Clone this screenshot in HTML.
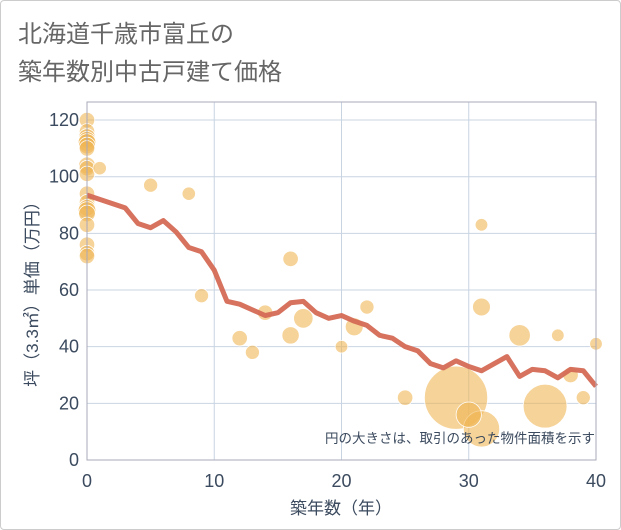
<!DOCTYPE html>
<html><head><meta charset="utf-8"><style>
body{margin:0;background:#fff;font-family:"Liberation Sans","Noto Sans CJK JP",sans-serif;}
#card{position:absolute;left:0;top:0;width:619px;height:528px;border:1px solid #ccc;border-radius:4px;}
</style></head><body>
<div id="card">
<svg width="621" height="530" style="position:absolute;left:-1px;top:-1px">
<text x="18" y="42" font-size="24" fill="#666" font-family="Liberation Sans, Noto Sans CJK JP, sans-serif">北海道千歳市富丘の</text>
<text x="18" y="80" font-size="24" fill="#666" font-family="Liberation Sans, Noto Sans CJK JP, sans-serif">築年数別中古戸建て価格</text>
<g id="grid"></g><g id="bubbles"></g><g id="line"></g><g id="axes"></g>
<text x="595" y="443" font-size="13.5" fill="#3b4a5e" text-anchor="end" font-family="Liberation Sans, Noto Sans CJK JP, sans-serif">円の大きさは、取引のあった物件面積を示す</text>
<text x="341" y="514" font-size="17" fill="#3b4a5e" text-anchor="middle" font-family="Liberation Sans, Noto Sans CJK JP, sans-serif">築年数（年）</text>
<text transform="translate(38,290) rotate(-90)" font-size="17" fill="#3b4a5e" text-anchor="middle" font-family="Liberation Sans, Noto Sans CJK JP, sans-serif">坪（3.3㎡）単価（万円）</text>
</svg></div>
<script>
const xTicks=[0,10,20,30,40];
const yTicks=[0,20,40,60,80,100,120];
const lineYears=[0,1,2,3,4,5,6,7,8,9,10,11,12,13,14,15,16,17,18,19,20,21,22,23,24,25,26,27,28,29,30,31,32,33,34,35,36,37,38,39,40];
const lineValues=[93.5,92,90.5,89,83.5,82,84.5,80.5,75,73.5,67,56,55,53,51,52,55.5,56,52,50,51,49,47.5,44,43,40,38.5,34,32.5,35,33,31.5,34,36.5,29.5,32,31.5,29,32,31.5,26];
const bubbleX=[0,0,0,0,0,0,0,0,0,0,0,0,0,0,0,0,0,0,0,1,5,8,9,12,13,14,16,16,17,20,21,22,25,29,31,30,31,31,34,36,37,38,39,40];
const bubbleY=[120,116,114,113,112,111,110,104,103,101,94,91,89,88,87,83,76,73,72,103,97,94,58,43,38,52,71,44,50,40,47,54,22,22,11,16,83,54,44,19,44,30,22,41];
const bubbleArea=[60,60,70,70,80,70,60,70,60,60,60,60,70,80,70,60,60,60,60,45,50,45,50,60,50,60,60,75,95,40,80,50,60,1000,330,160,40,80,115,480,40,60,50,40];
const X=v=>87+v*12.725, Y=v=>460-v*2.833;
const NS='http://www.w3.org/2000/svg';
function mk(t,a,p){const e=document.createElementNS(NS,t);for(const k in a)e.setAttribute(k,a[k]);p.appendChild(e);return e;}
const g=document.getElementById('grid'),ax=document.getElementById('axes');
xTicks.forEach(t=>{
const l=mk('line',{x1:X(t),x2:X(t),y1:102,y2:460,stroke:'#c8d4e2','stroke-width':1},g);


const s=mk('text',{x:X(t),y:487,'font-size':18,fill:'#3b4a5e','text-anchor':'middle'},ax);s.textContent=t;


});
yTicks.forEach(t=>{
const l=mk('line',{x1:87,x2:596,y1:Y(t),y2:Y(t),stroke:'#c8d4e2','stroke-width':1},g);


const s=mk('text',{x:79,y:Y(t)+6,'font-size':18,fill:'#3b4a5e','text-anchor':'end'},ax);s.textContent=t;


});
const fr=mk('rect',{x:87,y:102,width:509,height:358,fill:'none',stroke:'#aab','stroke-width':1},ax);


const b=document.getElementById('bubbles');
bubbleX.forEach((x,i)=>{
const r=Math.sqrt(bubbleArea[i]);
const c=mk('circle',{cx:X(x),cy:Y(bubbleY[i]),r:r,fill:'#f0b553','fill-opacity':0.6,stroke:'#fff','stroke-width':0.8},b);


});
const pts=lineYears.map((x,i)=>X(x)+','+Y(lineValues[i])).join(' ');
const pl=mk('polyline',{points:pts,fill:'none',stroke:'#d46a55','stroke-width':5,'stroke-linejoin':'round','stroke-opacity':0.95},document.getElementById('line'));


</script>
</body></html>
